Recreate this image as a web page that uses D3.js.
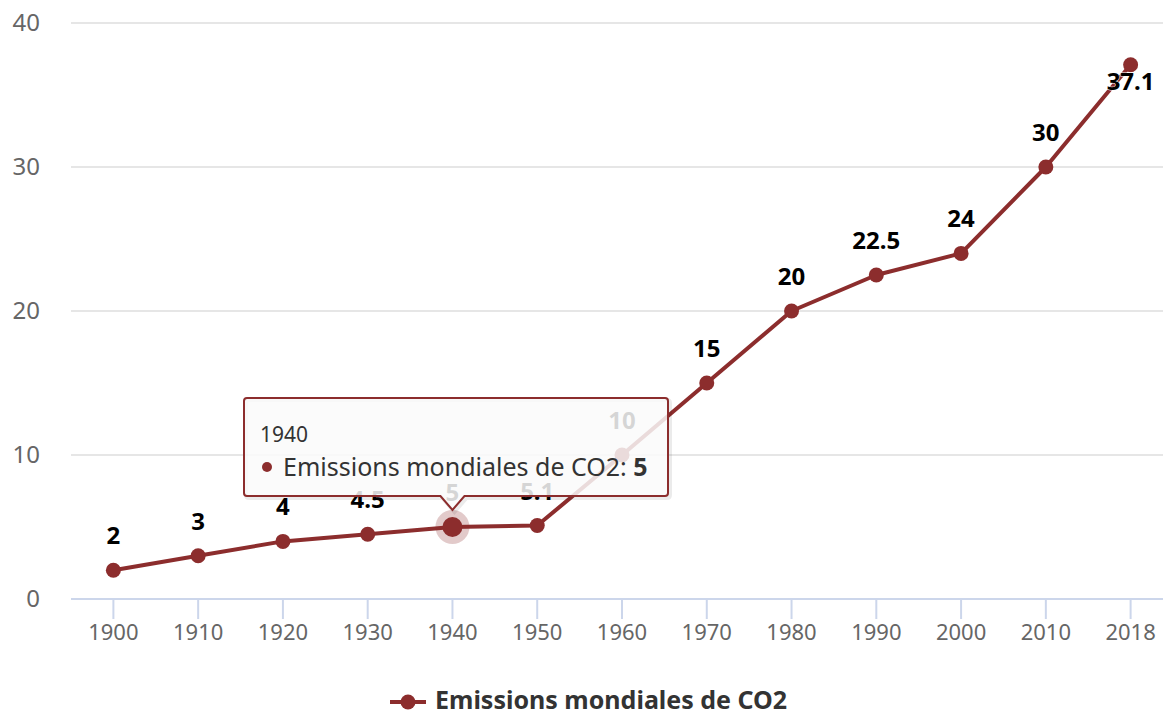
<!DOCTYPE html>
<html>
<head>
<meta charset="UTF-8" />
<title>Emissions mondiales de CO2</title>
<script src="https://cdn.jsdelivr.net/npm/d3@7"></script>
<style>
    body { margin: 0; background: #fff; }
    svg { display: block; font-family: "Noto Sans", "Open Sans", sans-serif; }
</style>
</head>
<body>
<div id="chart"></div>
<script>
    // data
    var years = ["1900", "1910", "1920", "1930", "1940", "1950", "1960", "1970", "1980", "1990", "2000", "2010", "2018"];
    var emissions = [2, 3, 4, 4.5, 5, 5.1, 10, 15, 20, 22.5, 24, 30, 37.1];
    var yTicks = [0, 10, 20, 30, 40];
    var seriesName = "Emissions mondiales de CO2";
    var hoverIndex = 4;

    var W = 1163, H = 713;
    var color = "#8c2d2d";
    var plot = { left: 71, right: 1173, top: 23, bottom: 599 };

    var svg = d3.select("#chart").append("svg").attr("width", W).attr("height", H);

    var x = d3.scaleBand().domain(years).range([plot.left, plot.right]);
    var y = d3.scaleLinear().domain([0, 40]).range([plot.bottom, plot.top]);
    var cx = function (d) { return x(d) + x.bandwidth() / 2; };

    // grid
    svg.append("g").selectAll("line").data(yTicks.filter(function (t) { return t > 0; }))
        .enter().append("line")
        .attr("x1", plot.left).attr("x2", W)
        .attr("y1", function (d) { return y(d); }).attr("y2", function (d) { return y(d); })
        .attr("stroke", "#e6e6e6").attr("stroke-width", 2);

    // y labels
    svg.append("g").selectAll("text").data(yTicks).enter().append("text")
        .attr("x", 40).attr("y", function (d) { return y(d) + 8; })
        .attr("text-anchor", "end").attr("font-size", 24).attr("fill", "#666")
        .text(function (d) { return d; });

    // x axis
    var xAxis = svg.append("g");
    xAxis.append("line").attr("x1", plot.left).attr("x2", W)
        .attr("y1", plot.bottom).attr("y2", plot.bottom)
        .attr("stroke", "#ccd6eb").attr("stroke-width", 2);
    xAxis.selectAll(".tick").data(years).enter().append("line")
        .attr("x1", cx).attr("x2", cx)
        .attr("y1", plot.bottom).attr("y2", plot.bottom + 20)
        .attr("stroke", "#ccd6eb").attr("stroke-width", 2);
    xAxis.selectAll("text").data(years).enter().append("text")
        .attr("x", cx).attr("y", 640)
        .attr("text-anchor", "middle").attr("font-size", 22).attr("fill", "#666")
        .text(function (d) { return d; });

    // line
    var pts = years.map(function (yr, i) { return { year: yr, v: emissions[i] }; });
    var line = d3.line().x(function (d) { return cx(d.year); }).y(function (d) { return y(d.v); });
    svg.append("path").datum(pts).attr("d", line)
        .attr("fill", "none").attr("stroke", color).attr("stroke-width", 4)
        .attr("stroke-linejoin", "round");

    // halo + markers
    svg.append("circle").attr("cx", cx(years[hoverIndex])).attr("cy", y(emissions[hoverIndex]))
        .attr("r", 17).attr("fill", color).attr("fill-opacity", 0.25);
    svg.append("g").selectAll("circle").data(pts).enter().append("circle")
        .attr("cx", function (d) { return cx(d.year); })
        .attr("cy", function (d) { return y(d.v); })
        .attr("r", function (d, i) { return i === hoverIndex ? 10 : 7.5; })
        .attr("fill", color);

    // data labels
    svg.append("g").selectAll("text").data(pts).enter().append("text")
        .attr("x", function (d) { return cx(d.year); })
        .attr("y", function (d, i) { return i === pts.length - 1 ? y(d.v) + 25 : y(d.v) - 26; })
        .attr("text-anchor", "middle").attr("font-size", 24).attr("font-weight", "bold")
        .attr("fill", "#000").attr("stroke", "#fff").attr("stroke-width", 1)
        .attr("paint-order", "stroke")
        .text(function (d) { return d.v; });

    // tooltip
    var tx = cx(years[hoverIndex]), ty = y(emissions[hoverIndex]);
    var bx = 244, by = 398, bw = 424, bh = 98, ay = ty - 17;
    var tipPath = "M" + (bx + 3) + "," + by + "H" + (bx + bw - 3) + "Q" + (bx + bw) + "," + by + " " + (bx + bw) + "," + (by + 3) +
        "V" + (by + bh - 3) + "Q" + (bx + bw) + "," + (by + bh) + " " + (bx + bw - 3) + "," + (by + bh) +
        "H" + (tx + 12) + "L" + tx + "," + ay + "L" + (tx - 12) + "," + (by + bh) +
        "H" + (bx + 3) + "Q" + bx + "," + (by + bh) + " " + bx + "," + (by + bh - 3) +
        "V" + (by + 3) + "Q" + bx + "," + by + " " + (bx + 3) + "," + by + "Z";
    var tip = svg.append("g");
    tip.append("path").attr("d", tipPath).attr("transform", "translate(2,2)")
        .attr("fill", "none").attr("stroke", "#000").attr("stroke-opacity", 0.08).attr("stroke-width", 4);
    tip.append("path").attr("d", tipPath)
        .attr("fill", "rgba(250,250,250,0.85)").attr("stroke", color).attr("stroke-width", 2);
    tip.append("text").attr("x", 260).attr("y", 442).attr("font-size", 21).attr("fill", "#333")
        .text(years[hoverIndex]);
    tip.append("circle").attr("cx", 267).attr("cy", 467).attr("r", 5).attr("fill", color);
    var t2 = tip.append("text").attr("x", 283).attr("y", 476).attr("font-size", 25).attr("fill", "#333");
    t2.append("tspan").text(seriesName + ": ");
    t2.append("tspan").attr("font-weight", "bold").text(emissions[hoverIndex]);

    // legend
    var lg = svg.append("g");
    lg.append("line").attr("x1", 390).attr("x2", 426).attr("y1", 702).attr("y2", 702)
        .attr("stroke", color).attr("stroke-width", 4);
    lg.append("circle").attr("cx", 408).attr("cy", 702).attr("r", 7.5).attr("fill", color);
    lg.append("text").attr("x", 435).attr("y", 709).attr("font-size", 25).attr("font-weight", "bold")
        .attr("fill", "#333").text(seriesName);
</script>
</body>
</html>
